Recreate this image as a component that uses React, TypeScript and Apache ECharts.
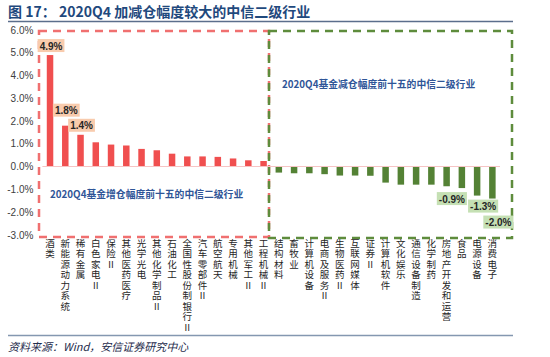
import React, { useEffect, useRef } from "react";
import * as echarts from "echarts";

const categories = [
  "酒类", "新能源动力系统", "稀有金属", "白色家电Ⅱ", "保险Ⅱ", "其他医药医疗", "光学光电",
  "其他化学制品Ⅱ", "石油化工", "全国性股份制银行Ⅱ", "汽车零部件Ⅱ", "航空航天", "专用机械",
  "其他军工Ⅱ", "工程机械Ⅱ",
  "结构材料", "畜牧业", "计算机设备", "电商及服务Ⅱ", "生物医药Ⅱ", "互联网媒体", "证券Ⅱ",
  "计算机软件", "文化娱乐", "通信设备制造", "化学制药", "房地产开发和运营", "食品", "电源设备", "消费电子",
];

const increaseValues = [4.9, 1.8, 1.4, 1.07, 0.97, 0.93, 0.78, 0.72, 0.57, 0.45, 0.45, 0.43, 0.36, 0.28, 0.25];
const decreaseValues = [-0.26, -0.29, -0.29, -0.33, -0.39, -0.39, -0.4, -0.7, -0.79, -0.79, -0.79, -0.86, -0.94, -1.27, -1.4];

// labelled bars: index within the full category list -> shown text
const labelTexts: Record<number, string> = {
  0: "4.9%",
  1: "1.8%",
  2: "1.4%",
  27: "-0.9%",
  28: "-1.3%",
  29: "-2.0%",
};

const yTicks = { min: -3, max: 6, interval: 1 };

const titleText = "图 17： 2020Q4 加减仓幅度较大的中信二级行业";
const incNote = "2020Q4基金增仓幅度前十五的中信二级行业";
const decNote = "2020Q4基金减仓幅度前十五的中信二级行业";
const sourceText = "资料来源：Wind，安信证券研究中心";

const CJK = "'Noto Sans CJK SC', 'Noto Sans', sans-serif";
const RED = "#F04F4F";
const GREEN = "#548235";

const labelOffsets: Record<number, any> = {
  0: { position: "top", distance: 3, offset: [1, 0] },
  1: { position: "top", distance: 3, offset: [1, -6] },
  2: { position: "top", distance: 3, offset: [1, 0] },
  27: { position: "bottom", distance: 4, offset: [-10, 0] },
  28: { position: "bottom", distance: 4, offset: [6, 0] },
  29: { position: "bottom", distance: 4, offset: [6, 13] },
};

function buildData(values: number[], startIndex: number, bg: string) {
  const full: any[] = categories.map(() => null);
  values.forEach((v, i) => {
    const idx = startIndex + i;
    const item: any = { value: v };
    if (labelTexts[idx]) {
      item.label = {
        show: true,
        ...labelOffsets[idx],
        formatter: labelTexts[idx],
        backgroundColor: bg,
        padding: [2, 2, 1, 2],
        color: "#262626",
        fontSize: 10,
        fontWeight: "bold",
        fontFamily: "'Liberation Sans', Arial, sans-serif",
      };
    }
    full[idx] = item;
  });
  return full;
}

export default function App() {
  const ref = useRef<HTMLDivElement>(null);

  useEffect(() => {
    if (!ref.current) return;
    const chart = echarts.init(ref.current, null, { renderer: "svg" });
    const dash = [8, 6];
    chart.setOption({
      animation: false,
      backgroundColor: "#ffffff",
      grid: { left: 42.4, right: 50, top: 30, bottom: 122, containLabel: false },
      xAxis: {
        type: "category",
        data: categories,
        boundaryGap: true,
        axisLine: { show: false, onZero: false },
        axisTick: { show: false },
        axisLabel: {
          interval: 0,
          margin: 3,
          fontSize: 9.5,
          lineHeight: 10.5,
          color: "#262626",
          fontFamily: "'Liberation Sans', 'Noto Sans CJK SC', sans-serif",
          verticalAlign: "top",
          align: "center",
          formatter: (v: string) => v.split("").join("\n"),
        },
      },
      yAxis: {
        type: "value",
        min: yTicks.min,
        max: yTicks.max,
        interval: yTicks.interval,
        splitLine: { show: false },
        axisLine: { show: false },
        axisTick: { show: false },
        axisLabel: {
          margin: 9,
          fontSize: 10,
          color: "#404040",
          fontFamily: "'Liberation Sans', Arial, sans-serif",
          formatter: (v: number) => v.toFixed(1) + "%",
        },
      },
      series: [
        {
          type: "bar",
          stack: "all",
          barWidth: 6.5,
          itemStyle: { color: RED },
          data: buildData(increaseValues, 0, "#F8CBAD"),
          markLine: {
            silent: true,
            symbol: "none",
            label: { show: false },
            lineStyle: { color: "#F6C4C4", width: 1, type: "solid" },
            data: [{ yAxis: 0 }],
          },
        },
        {
          type: "bar",
          stack: "all",
          barWidth: 6.5,
          itemStyle: { color: GREEN },
          data: buildData(decreaseValues, 15, "#C5E0B4"),
        },
      ],
      graphic: [
        {
          type: "text",
          left: 8,
          top: 4,
          style: {
            text: titleText,
            fill: "#1F497D",
            font: `bold 14px ${CJK}`,
          },
        },
        {
          type: "line",
          shape: { x1: 8, y1: 21.5, x2: 513, y2: 21.5 },
          style: { stroke: "#5B6E8C", lineWidth: 1.5 },
        },
        {
          type: "rect",
          shape: { x: 39, y: 31, width: 230, height: 206 },
          style: { fill: "none", stroke: "#F07070", lineWidth: 2.5, lineDash: dash },
        },
        {
          type: "rect",
          shape: { x: 269, y: 31, width: 243, height: 207 },
          style: { fill: "none", stroke: "#5E8C3C", lineWidth: 2.5, lineDash: dash },
        },
        {
          type: "text",
          left: 50,
          top: 189,
          style: { text: incNote, fill: "#2F5597", font: `bold 9.8px ${CJK}` },
        },
        {
          type: "text",
          left: 282,
          top: 79,
          style: { text: decNote, fill: "#2F5597", font: `bold 9.8px ${CJK}` },
        },
        {
          type: "line",
          shape: { x1: 8, y1: 335.5, x2: 513, y2: 335.5 },
          style: { stroke: "#8497B0", lineWidth: 1.5 },
        },
        {
          type: "text",
          left: 8,
          top: 340,
          style: { text: sourceText, fill: "#1F2D4D", font: `italic 11px ${CJK}` },
        },
      ],
    });
    return () => chart.dispose();
  }, []);

  return (
    <div style={{ position: "absolute", left: 0, top: 0, width: 550, height: 357, background: "#fff" }}>
      <div ref={ref} style={{ width: 550, height: 357 }} />
    </div>
  );
}
